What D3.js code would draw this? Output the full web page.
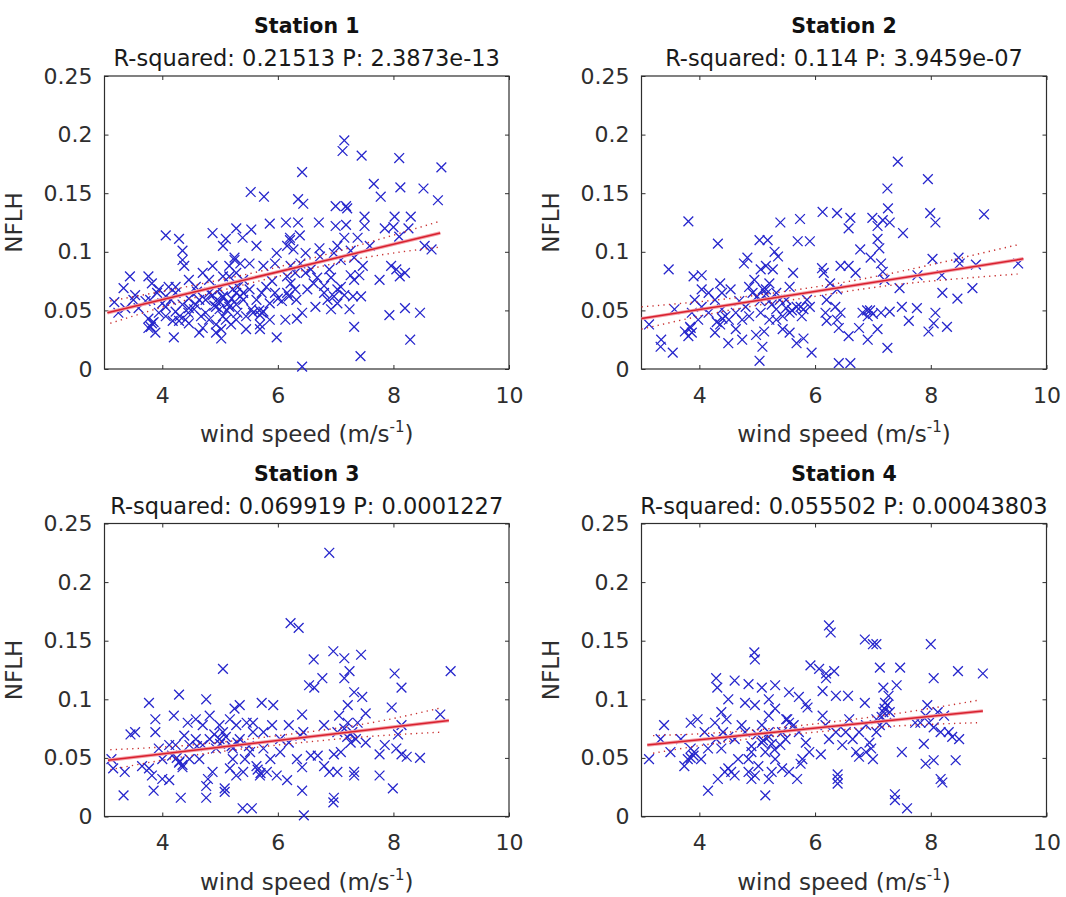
<!DOCTYPE html>
<html>
<head>
<meta charset="utf-8">
<title>NFLH vs wind speed</title>
<style>
  body { margin: 0; background: #fff; }
  svg { display: block; font-family: "DejaVu Sans", sans-serif; }
</style>
</head>
<body>
<svg width="1066" height="897"></svg>
<script src="https://d3js.org/d3.v7.min.js"></script>
<script>

var stationTitles = ["Station 1", "Station 2", "Station 3", "Station 4"];
var stationStats = [
  "R-squared: 0.21513 P: 2.3873e-13",
  "R-squared: 0.114 P: 3.9459e-07",
  "R-squared: 0.069919 P: 0.0001227",
  "R-squared: 0.055502 P: 0.00043803"
];

var xTicks = [4, 6, 8, 10];
var yTicks = [0, 0.05, 0.1, 0.15, 0.2, 0.25];
var yTickLabels = ["0", "0.05", "0.1", "0.15", "0.2", "0.25"];

// [wind speed, NFLH]
var station1Points = [
[7.15,0.195],[7.12,0.186],[7.45,0.182],[8.1,0.18],[8.83,0.172],[6.42,0.168],[5.53,0.151],[5.76,0.147],[6.35,0.145],[6.44,0.141],
[7.66,0.158],[7.78,0.147],[8.12,0.155],[8.52,0.154],[8.77,0.144],[7.0,0.139],[7.18,0.139],[7.2,0.137],[7.5,0.13],[8.02,0.13],
[8.3,0.13],[5.86,0.124],[6.14,0.125],[6.35,0.125],[6.71,0.125],[7.0,0.122],[7.18,0.123],[7.5,0.122],[7.85,0.12],[8.0,0.121],
[8.26,0.12],[5.28,0.12],[5.54,0.119],[4.87,0.116],[4.06,0.114],[4.29,0.111],[5.1,0.111],[5.39,0.112],[6.21,0.112],[6.38,0.114],
[7.15,0.112],[7.38,0.112],[8.1,0.113],[8.66,0.102],[8.54,0.105],[7.59,0.105],[6.72,0.103],[6.16,0.105],[5.63,0.105],[5.05,0.105],
[4.35,0.101],[7.26,0.101],[7.32,0.095],[7.96,0.088],[8.05,0.085],[8.2,0.082],[8.11,0.079],[7.76,0.076],[7.26,0.08],[6.89,0.085],
[6.92,0.078],[6.73,0.096],[6.48,0.099],[6.39,0.09],[6.22,0.088],[5.95,0.09],[5.75,0.088],[5.51,0.09],[5.25,0.093],[5.16,0.088],
[4.87,0.088],[4.7,0.082],[4.35,0.093],[4.38,0.088],[3.44,0.079],[3.76,0.079],[3.33,0.069],[3.53,0.063],[3.17,0.057],[3.36,0.052],
[3.82,0.073],[3.94,0.068],[4.11,0.07],[4.23,0.065],[3.79,0.059],[4.0,0.056],[4.23,0.049],[4.46,0.052],[4.64,0.059],[4.81,0.065],
[4.93,0.058],[4.99,0.051],[5.05,0.045],[5.16,0.053],[5.28,0.065],[5.4,0.059],[5.54,0.051],[5.69,0.046],[5.72,0.065],[5.86,0.056],
[6.19,0.062],[6.3,0.068],[6.32,0.059],[6.42,0.048],[6.22,0.073],[6.51,0.068],[6.62,0.073],[6.65,0.053],[6.8,0.065],[6.86,0.059],
[6.97,0.062],[7.03,0.068],[7.15,0.063],[7.3,0.062],[7.44,0.062],[7.24,0.051],[7.32,0.036],[7.43,0.011],[7.93,0.046],[8.2,0.052],
[8.46,0.048],[8.29,0.025],[6.42,0.002],[5.98,0.027],[5.02,0.026],[4.2,0.027],[3.76,0.035],[3.88,0.031],[3.82,0.039],[4.29,0.041],
[4.46,0.039],[4.67,0.045],[4.81,0.042],[4.93,0.038],[5.1,0.042],[5.28,0.042],[5.69,0.038],[5.69,0.034],[5.86,0.042],[5.45,0.045],
[5.57,0.048],[5.75,0.049],[5.22,0.068],[5.31,0.07],[5.4,0.076],[4.99,0.068],[4.87,0.063],[4.75,0.059],[4.58,0.055],[4.46,0.06],
[4.35,0.055],[4.15,0.059],[4.06,0.053],[3.94,0.048],[3.76,0.043],[4.06,0.045],[4.18,0.041],[4.55,0.051],[4.75,0.048],[4.93,0.053],
[5.05,0.061],[5.14,0.056],[5.28,0.055],[5.4,0.065],[5.51,0.068],[5.63,0.059],[5.8,0.07],[5.95,0.065],[6.07,0.058],[6.16,0.079],
[6.3,0.082],[6.48,0.082],[6.57,0.085],[6.68,0.078],[6.8,0.071],[6.92,0.051],[7.03,0.056],[7.09,0.07],[7.32,0.076],[7.41,0.08],
[7.47,0.088],[6.97,0.099],[7.09,0.093],[7.03,0.105],[6.27,0.102],[6.21,0.11],[5.98,0.099],[5.28,0.082],[5.16,0.079],[5.05,0.079],
[4.81,0.076],[4.58,0.07],[4.46,0.076],[4.23,0.07],[4.06,0.062],[3.91,0.065],[3.71,0.058],[3.59,0.052],[3.5,0.059],[3.24,0.048],
[4.7,0.035],[5.02,0.034],[5.19,0.038],[5.45,0.034],[6.13,0.042],[6.33,0.043],[6.16,0.065],[4.93,0.031],[4.64,0.031],
[5.0,0.057],[5.05,0.062],[5.12,0.05],[5.2,0.06],[5.35,0.062],[5.3,0.048],[4.9,0.054],[5.25,0.095],[5.35,0.09],[3.8,0.036],
[3.85,0.04],[5.72,0.048],[5.68,0.05],[4.45,0.048],[4.6,0.066],[6.0,0.06],[5.9,0.075],[4.3,0.045],[4.4,0.042]
];

var station2Points = [
[7.43,0.177],[7.95,0.162],[7.25,0.154],[3.81,0.126],[5.4,0.125],[5.74,0.128],[6.13,0.134],[6.38,0.133],[6.61,0.129],[6.58,0.12],
[6.99,0.129],[7.17,0.127],[7.26,0.137],[7.08,0.122],[7.29,0.125],[7.52,0.116],[7.99,0.133],[8.08,0.125],[8.92,0.132],[4.32,0.107],
[5.04,0.11],[5.18,0.11],[5.7,0.109],[5.91,0.109],[5.3,0.1],[5.36,0.096],[7.08,0.111],[7.11,0.103],[6.78,0.102],[6.96,0.095],
[7.14,0.09],[7.17,0.083],[7.2,0.076],[7.46,0.069],[7.77,0.08],[8.03,0.094],[8.19,0.08],[8.2,0.065],[8.48,0.095],[8.5,0.09],
[8.78,0.089],[8.72,0.069],[8.46,0.06],[9.51,0.09],[8.08,0.048],[8.05,0.039],[7.96,0.032],[8.28,0.036],[7.76,0.052],[7.62,0.041],
[7.5,0.053],[7.29,0.049],[7.14,0.048],[7.08,0.034],[7.25,0.018],[6.82,0.048],[6.91,0.045],[6.76,0.035],[6.91,0.025],[6.58,0.028],
[6.41,0.005],[6.61,0.005],[6.44,0.048],[6.41,0.035],[6.2,0.059],[6.18,0.048],[6.2,0.041],[6.38,0.042],[6.26,0.073],[6.38,0.068],
[6.44,0.088],[6.58,0.088],[6.7,0.082],[6.12,0.086],[6.15,0.082],[5.94,0.014],[5.04,0.007],[4.5,0.022],[3.54,0.014],[3.34,0.025],
[3.33,0.019],[3.13,0.038],[3.47,0.085],[3.9,0.079],[4.04,0.08],[3.84,0.036],[3.81,0.028],[3.87,0.031],[3.98,0.042],[3.87,0.048],
[3.92,0.059],[4.04,0.053],[4.16,0.065],[4.27,0.059],[4.36,0.073],[4.39,0.051],[4.36,0.038],[4.51,0.042],[4.54,0.068],[4.63,0.048],
[4.74,0.025],[4.8,0.053],[4.77,0.09],[4.83,0.095],[4.92,0.065],[4.98,0.029],[5.09,0.019],[5.12,0.032],[4.86,0.045],[4.95,0.076],
[5.06,0.085],[5.15,0.088],[5.21,0.073],[5.27,0.085],[5.33,0.065],[5.15,0.068],[5.21,0.058],[5.33,0.051],[5.44,0.045],[5.33,0.042],
[5.44,0.034],[5.56,0.031],[5.68,0.022],[5.8,0.026],[5.56,0.048],[5.68,0.053],[5.8,0.051],[5.91,0.053],[5.56,0.07],[5.62,0.082],
[5.5,0.059],[5.77,0.045],[5.86,0.059],[4.27,0.031],[4.63,0.034],[4.39,0.065],[4.16,0.048],[4.69,0.058],[4.86,0.07],[5.06,0.048],
[5.21,0.042],[5.39,0.059],[4.74,0.042],[3.75,0.032],[4.04,0.068],[3.57,0.051],[6.35,0.053],
[5.0,0.062],[5.1,0.068],[5.15,0.064],[5.05,0.058],[5.5,0.052],[5.6,0.05],[5.75,0.053],[6.95,0.05],[7.0,0.047],[6.9,0.05],
[4.4,0.043],[4.45,0.045],[4.3,0.04],[3.85,0.035],[5.25,0.055]
];

var station3Points = [
[6.89,0.225],[6.22,0.165],[6.36,0.161],[5.05,0.126],[6.96,0.141],[7.15,0.135],[7.44,0.138],[6.62,0.134],[8.02,0.122],[8.99,0.124],
[7.24,0.124],[7.15,0.118],[6.77,0.118],[6.54,0.112],[6.63,0.11],[8.14,0.11],[7.32,0.106],[7.46,0.102],[4.29,0.104],[3.77,0.097],
[4.76,0.1],[5.72,0.097],[5.92,0.095],[5.34,0.095],[5.25,0.092],[7.97,0.093],[7.21,0.095],[7.06,0.086],[7.52,0.088],[8.81,0.087],
[6.42,0.087],[6.19,0.078],[5.9,0.078],[6.8,0.078],[7.21,0.08],[8.14,0.078],[8.08,0.07],[3.88,0.083],[3.88,0.072],[3.45,0.07],
[3.53,0.072],[4.2,0.086],[4.44,0.08],[4.58,0.083],[4.7,0.078],[4.82,0.086],[4.99,0.078],[5.17,0.083],[5.28,0.078],[5.46,0.08],
[5.57,0.072],[5.75,0.072],[6.39,0.069],[6.44,0.072],[7.29,0.072],[7.35,0.066],[7.26,0.063],[7.52,0.063],[7.03,0.072],[7.85,0.061],
[7.76,0.053],[8.05,0.058],[8.14,0.053],[8.23,0.051],[8.46,0.05],[7.99,0.024],[7.76,0.035],[7.32,0.038],[7.32,0.035],[6.97,0.016],
[6.96,0.012],[6.45,0.001],[6.42,0.022],[5.55,0.007],[5.39,0.007],[4.76,0.016],[4.32,0.016],[3.85,0.022],[3.33,0.018],[3.15,0.041],
[3.35,0.038],[3.65,0.043],[3.77,0.041],[3.82,0.035],[4.0,0.032],[4.12,0.031],[4.0,0.049],[4.17,0.052],[4.29,0.046],[4.35,0.042],
[4.23,0.061],[4.47,0.061],[4.58,0.066],[4.64,0.049],[4.76,0.026],[4.79,0.032],[4.87,0.038],[4.93,0.058],[4.99,0.066],[5.05,0.072],
[5.08,0.024],[5.08,0.021],[5.28,0.035],[5.17,0.041],[5.4,0.038],[5.22,0.058],[5.34,0.066],[5.52,0.055],[5.63,0.043],[5.69,0.035],
[5.81,0.038],[5.87,0.049],[5.75,0.058],[5.98,0.035],[6.16,0.031],[6.04,0.055],[6.19,0.063],[6.33,0.049],[6.42,0.042],[6.57,0.052],
[6.69,0.052],[6.8,0.043],[6.89,0.038],[7.03,0.038],[7.09,0.055],[6.97,0.053],[7.15,0.075],[7.38,0.08],[3.12,0.049],[4.12,0.061],
[3.94,0.058],[4.82,0.066],[4.7,0.061],[5.22,0.049],[5.43,0.049],[4.47,0.049],[4.38,0.069],[5.57,0.08],[6.04,0.066],
[4.3,0.047],[4.35,0.044],[4.25,0.05],[5.0,0.062],[5.1,0.068],[5.2,0.06],[5.3,0.063],[5.7,0.037],[5.65,0.04],[7.2,0.068],
[7.25,0.07],[4.9,0.07],[5.5,0.06],[4.6,0.06]
];

var station4Points = [
[6.24,0.163],[6.27,0.157],[6.86,0.151],[7.0,0.147],[7.06,0.147],[8.0,0.147],[4.95,0.14],[4.96,0.134],[5.92,0.129],[6.07,0.126],
[6.19,0.122],[6.33,0.124],[6.19,0.118],[7.12,0.127],[7.47,0.127],[8.47,0.124],[8.9,0.122],[8.05,0.118],[4.29,0.118],[4.31,0.11],
[4.61,0.116],[4.85,0.113],[5.08,0.11],[5.31,0.112],[4.79,0.097],[5.2,0.1],[5.55,0.106],[5.72,0.102],[6.13,0.107],[6.36,0.103],
[6.57,0.103],[7.18,0.11],[7.41,0.112],[4.5,0.1],[6.86,0.097],[7.21,0.097],[7.27,0.103],[5.84,0.096],[5.87,0.093],[7.94,0.095],
[7.91,0.086],[8.12,0.089],[8.23,0.086],[7.73,0.08],[7.82,0.08],[7.97,0.08],[8.05,0.076],[8.17,0.072],[8.31,0.072],[8.37,0.068],
[8.49,0.066],[7.88,0.062],[7.5,0.055],[7.91,0.045],[8.05,0.048],[8.43,0.048],[8.17,0.032],[8.2,0.029],[7.38,0.019],[7.38,0.014],
[7.59,0.007],[7.06,0.072],[7.12,0.078],[7.23,0.08],[7.29,0.089],[7.18,0.089],[7.06,0.083],[6.88,0.078],[6.76,0.072],[6.94,0.063],
[6.88,0.055],[6.76,0.051],[6.71,0.055],[6.65,0.066],[6.53,0.072],[6.59,0.083],[6.47,0.061],[6.36,0.072],[6.24,0.066],[6.18,0.078],
[6.13,0.086],[6.1,0.053],[6.39,0.036],[6.39,0.032],[6.39,0.028],[5.9,0.055],[5.84,0.063],[5.72,0.072],[5.78,0.049],[5.75,0.045],
[5.69,0.032],[5.55,0.038],[5.63,0.078],[5.52,0.083],[5.49,0.066],[5.4,0.061],[5.31,0.049],[5.25,0.038],[5.2,0.072],[5.14,0.055],
[5.08,0.063],[5.02,0.043],[4.96,0.035],[4.9,0.032],[4.85,0.038],[4.85,0.049],[4.79,0.072],[4.73,0.078],[4.61,0.066],[4.55,0.038],
[4.44,0.038],[4.32,0.032],[4.15,0.022],[4.38,0.058],[4.41,0.072],[4.47,0.083],[4.38,0.089],[4.27,0.08],[4.29,0.066],[4.15,0.058],
[4.03,0.049],[3.91,0.055],[3.8,0.049],[3.74,0.043],[3.85,0.058],[3.85,0.08],[3.97,0.083],[4.09,0.072],[3.68,0.066],[3.5,0.055],
[3.39,0.078],[3.33,0.066],[3.13,0.049],[5.14,0.018],[5.2,0.032],[5.43,0.041],[5.2,0.086],[5.31,0.092],[4.96,0.095],[5.08,0.078],
[5.43,0.072],[4.9,0.055],[4.67,0.049],[4.61,0.035],[4.5,0.041],[6.97,0.058],[7.0,0.049],
[5.1,0.065],[5.2,0.068],[5.25,0.062],[5.0,0.07],[5.5,0.083],[5.55,0.08],[3.85,0.05],[3.9,0.052],[7.2,0.092],[7.25,0.095],
[7.15,0.085],[4.9,0.06],[5.3,0.057],[4.5,0.068]
];

// fitted line ends and dotted confidence bounds
var station1Fit = [[3.05,0.048],[8.81,0.116]];
var station1CiLow = [[3.1,0.039],[4.5,0.060],[6,0.079],[7.5,0.095],[8.8,0.104]];
var station1CiHigh = [[3.1,0.058],[4.5,0.071],[6,0.087],[7.5,0.107],[8.8,0.126]];

var station2Fit = [[3.0,0.043],[9.6,0.094]];
var station2CiLow = [[3.0,0.034],[4.5,0.050],[6,0.062],[7.5,0.0725],[9.5,0.081]];
var station2CiHigh = [[3.0,0.053],[4.5,0.060],[6,0.070],[7.5,0.0835],[9.5,0.106]];

var station3Fit = [[3.06,0.048],[8.96,0.082]];
var station3CiLow = [[3.1,0.040],[4.5,0.052],[6,0.061],[7.5,0.068],[8.85,0.072]];
var station3CiHigh = [[3.1,0.057],[4.5,0.061],[6,0.069],[7.5,0.079],[8.85,0.093]];

var station4Fit = [[3.1,0.061],[8.9,0.090]];
var station4CiLow = [[3.2,0.054],[4.5,0.064],[6,0.072],[7.5,0.0775],[8.8,0.080]];
var station4CiHigh = [[3.2,0.069],[4.5,0.072],[6,0.079],[7.5,0.0885],[8.8,0.099]];

var stations = [
  {points: station1Points, fit: station1Fit, lo: station1CiLow, hi: station1CiHigh},
  {points: station2Points, fit: station2Fit, lo: station2CiLow, hi: station2CiHigh},
  {points: station3Points, fit: station3Fit, lo: station3CiLow, hi: station3CiHigh},
  {points: station4Points, fit: station4Fit, lo: station4CiLow, hi: station4CiHigh}
];

// axes boxes in page pixels
var boxes = [
  {left: 104.5, top: 76, width: 404.5, height: 293},
  {left: 641.5, top: 76, width: 405, height: 293},
  {left: 104.5, top: 523.5, width: 404.5, height: 293},
  {left: 641.5, top: 523.5, width: 405, height: 293}
];

var svg = d3.select("svg");
svg.append("rect").attr("width", 1066).attr("height", 897).attr("fill", "#fff");

var axisColor = "#2e2e2e";

stations.forEach(function(st, i){
  var b = boxes[i];
  var w = b.width, h = b.height;

  var x = d3.scaleLinear().domain([3, 10]).range([0, w]);
  var y = d3.scaleLinear().domain([0, 0.25]).range([h, 0]);

  var g = svg.append("g").attr("transform", "translate(" + b.left + "," + b.top + ")");

  // ticks on all four sides, pointing inward
  var bottom = g.append("g").attr("transform", "translate(0," + h + ")")
    .call(d3.axisBottom(x).tickValues(xTicks).tickSizeInner(-4).tickSizeOuter(0)
      .tickPadding(18).tickFormat(d3.format("d")));
  var left = g.append("g")
    .call(d3.axisLeft(y).tickValues(yTicks).tickSizeInner(-4).tickSizeOuter(0)
      .tickPadding(12).tickFormat(function(d, k){ return yTickLabels[k]; }));
  var top = g.append("g")
    .call(d3.axisTop(x).tickValues(xTicks).tickSizeInner(-4).tickSizeOuter(0).tickFormat(""));
  var right = g.append("g").attr("transform", "translate(" + w + ",0)")
    .call(d3.axisRight(y).tickValues(yTicks).tickSizeInner(-4).tickSizeOuter(0).tickFormat(""));

  [bottom, left, top, right].forEach(function(a){
    a.select(".domain").remove();
    a.selectAll("line").attr("stroke", axisColor);
    a.selectAll("text").attr("fill", axisColor)
      .style("font-family", "'DejaVu Sans', sans-serif").style("font-size", "22px");
  });

  g.append("rect").attr("width", w).attr("height", h)
    .attr("fill", "none").attr("stroke", axisColor).attr("stroke-width", 1.2);

  // scatter
  g.append("g").selectAll("path")
    .data(st.points)
    .join("path")
    .attr("transform", function(d){ return "translate(" + x(d[0]) + "," + y(d[1]) + ")"; })
    .attr("d", d3.symbol(d3.symbolX, 64))
    .attr("fill", "none")
    .attr("stroke", "#2626cc")
    .attr("stroke-width", 1.3);

  // fit + confidence bounds
  var line = d3.line().x(function(d){ return x(d[0]); }).y(function(d){ return y(d[1]); });
  var curve = d3.line().curve(d3.curveNatural).x(function(d){ return x(d[0]); }).y(function(d){ return y(d[1]); });

  g.append("path").attr("d", line(st.fit))
    .attr("stroke", "#f4a0a8").attr("stroke-width", 3.5).attr("fill", "none");
  g.append("path").attr("d", line(st.fit))
    .attr("stroke", "#d8202e").attr("stroke-width", 1.5).attr("fill", "none");
  [st.lo, st.hi].forEach(function(c){
    g.append("path").attr("d", curve(c))
      .attr("stroke", "#c83030").attr("stroke-width", 1.4)
      .attr("stroke-dasharray", "1.3,4.2").attr("fill", "none");
  });

  // titles
  g.append("text").attr("x", w / 2).attr("y", -43)
    .attr("text-anchor", "middle").attr("font-weight", "bold")
    .attr("font-size", 20.5).attr("fill", "#111").text(stationTitles[i]);
  g.append("text").attr("x", w / 2).attr("y", -10)
    .attr("text-anchor", "middle").attr("font-size", 22.5)
    .attr("fill", "#1a1a1a").text(stationStats[i]);

  // axis labels
  var xl = g.append("text").attr("x", w / 2).attr("y", h + 73)
    .attr("text-anchor", "middle").attr("font-size", 23).attr("fill", axisColor);
  xl.append("tspan").text("wind speed (m/s");
  xl.append("tspan").attr("font-size", 15).attr("dy", -10).text("-1");
  xl.append("tspan").attr("dy", 10).text(")");

  g.append("text")
    .attr("transform", "translate(-83," + (h / 2) + ") rotate(-90)")
    .attr("text-anchor", "middle").attr("font-size", 23).attr("fill", axisColor)
    .text("NFLH");
});

</script>
</body>
</html>
